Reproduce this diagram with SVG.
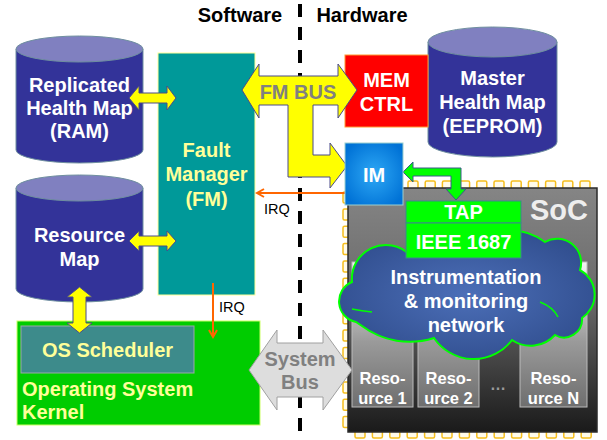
<svg xmlns="http://www.w3.org/2000/svg" width="607" height="440" viewBox="0 0 607 440">
<defs>
<style>
.t{font-family:"Liberation Sans",Arial,sans-serif;font-weight:bold;font-size:20px;text-anchor:middle}
.w{fill:#FFFFFF}
.py{fill:#FFFF99}
.g{fill:#808080}
.k{fill:#000000}
.irq{font-family:"Liberation Sans",Arial,sans-serif;font-size:14.5px;fill:#000000}
.cylb{fill:#333399;stroke:#6F8F9F;stroke-width:1}
.cylt{fill:#8080C0;stroke:#6F8F9F;stroke-width:1}
.ya{fill:#FFFF00;stroke:#4B4B8B;stroke-width:1}
.pin{fill:#FFFBEA;stroke:#F5BE1E;stroke-width:1.5}
.res{fill:url(#resg);stroke:#BBBBBB;stroke-width:1}
.or{stroke:#FF6600;stroke-width:2;fill:none}
</style>
<linearGradient id="socg" x1="0" y1="0" x2="0" y2="1">
<stop offset="0" stop-color="#858585"/>
<stop offset="0.45" stop-color="#6A6A6A"/>
<stop offset="1" stop-color="#1A1A1A"/>
</linearGradient>
<linearGradient id="resg" x1="0" y1="0" x2="0" y2="1">
<stop offset="0" stop-color="#F4F4F4"/>
<stop offset="0.55" stop-color="#9A9A9A"/>
<stop offset="1" stop-color="#6E6E6E"/>
</linearGradient>
<radialGradient id="imgr" cx="0.5" cy="0.5" r="0.6">
<stop offset="0" stop-color="#2EA8F5"/>
<stop offset="1" stop-color="#0072D6"/>
</radialGradient>
<radialGradient id="cloudg" cx="0.5" cy="0.5" r="0.6">
<stop offset="0" stop-color="#4C6FB8"/>
<stop offset="1" stop-color="#2F4C8C"/>
</radialGradient>
<marker id="oa" markerWidth="10" markerHeight="10" refX="8" refY="5" orient="auto" markerUnits="userSpaceOnUse">
<path d="M1,1 L8,5 L1,9" fill="none" stroke="#FF6600" stroke-width="2"/>
</marker>
</defs>

<rect width="607" height="440" fill="#FFFFFF"/>

<!-- divider -->
<line x1="300" y1="4" x2="300" y2="440" stroke="#000000" stroke-width="4" stroke-dasharray="13 10"/>
<text class="t k" x="240" y="22">Software</text>
<text class="t k" x="362" y="22">Hardware</text>

<!-- SoC -->
<g id="soc">
<g id="pins">
<rect class="pin" x="408" y="181" width="10" height="11" rx="1.5"/>
<rect class="pin" x="425.2" y="181" width="10" height="11" rx="1.5"/>
<rect class="pin" x="442.4" y="181" width="10" height="11" rx="1.5"/>
<rect class="pin" x="459.6" y="181" width="10" height="11" rx="1.5"/>
<rect class="pin" x="476.8" y="181" width="10" height="11" rx="1.5"/>
<rect class="pin" x="494" y="181" width="10" height="11" rx="1.5"/>
<rect class="pin" x="511.2" y="181" width="10" height="11" rx="1.5"/>
<rect class="pin" x="528.4" y="181" width="10" height="11" rx="1.5"/>
<rect class="pin" x="545.6" y="181" width="10" height="11" rx="1.5"/>
<rect class="pin" x="562.8" y="181" width="10" height="11" rx="1.5"/>
<rect class="pin" x="580" y="181" width="10" height="11" rx="1.5"/>
<rect class="pin" x="343" y="192" width="10" height="11" rx="1.5"/>
<rect class="pin" x="343" y="209" width="10" height="11" rx="1.5"/>
<rect class="pin" x="343" y="226.3" width="10" height="11" rx="1.5"/>
<rect class="pin" x="343" y="243.6" width="10" height="11" rx="1.5"/>
<rect class="pin" x="343" y="260.9" width="10" height="11" rx="1.5"/>
<rect class="pin" x="343" y="278.2" width="10" height="11" rx="1.5"/>
<rect class="pin" x="343" y="295.5" width="10" height="11" rx="1.5"/>
<rect class="pin" x="343" y="312.8" width="10" height="11" rx="1.5"/>
<rect class="pin" x="343" y="330.1" width="10" height="11" rx="1.5"/>
<rect class="pin" x="343" y="347.4" width="10" height="11" rx="1.5"/>
<rect class="pin" x="343" y="364.7" width="10" height="11" rx="1.5"/>
<rect class="pin" x="343" y="382" width="10" height="11" rx="1.5"/>
<rect class="pin" x="343" y="399.3" width="10" height="11" rx="1.5"/>
<rect class="pin" x="343" y="416.6" width="10" height="11" rx="1.5"/>
<rect class="pin" x="355" y="427" width="10" height="11" rx="1.5"/>
<rect class="pin" x="372.4" y="427" width="10" height="11" rx="1.5"/>
<rect class="pin" x="389.8" y="427" width="10" height="11" rx="1.5"/>
<rect class="pin" x="407.2" y="427" width="10" height="11" rx="1.5"/>
<rect class="pin" x="424.6" y="427" width="10" height="11" rx="1.5"/>
<rect class="pin" x="442" y="427" width="10" height="11" rx="1.5"/>
<rect class="pin" x="459.4" y="427" width="10" height="11" rx="1.5"/>
<rect class="pin" x="476.8" y="427" width="10" height="11" rx="1.5"/>
<rect class="pin" x="494.2" y="427" width="10" height="11" rx="1.5"/>
<rect class="pin" x="511.6" y="427" width="10" height="11" rx="1.5"/>
<rect class="pin" x="529" y="427" width="10" height="11" rx="1.5"/>
<rect class="pin" x="546.4" y="427" width="10" height="11" rx="1.5"/>
<rect class="pin" x="563.8" y="427" width="10" height="11" rx="1.5"/>
<rect class="pin" x="581.2" y="427" width="10" height="11" rx="1.5"/>
</g>
<rect x="348" y="188" width="249" height="244" fill="url(#socg)" stroke="#2A2A2A" stroke-width="1.5"/>
<text x="559" y="220" style="font-family:'Liberation Sans',Arial,sans-serif;font-weight:bold;font-size:29px;text-anchor:middle" fill="#EEEEEE">SoC</text>
</g>

<g id="resource1">
<rect class="res" x="352" y="262" width="61" height="145"/>
<text class="t w" x="382.5" y="384" style="font-size:16.5px">Reso-</text>
<text class="t w" x="382.5" y="404" style="font-size:16.5px">urce 1</text>
</g>
<g id="resource2">
<rect class="res" x="418" y="262" width="61" height="145"/>
<text class="t w" x="448.5" y="384" style="font-size:16.5px">Reso-</text>
<text class="t w" x="448.5" y="404" style="font-size:16.5px">urce 2</text>
</g>
<text class="t" x="498" y="390" fill="#9A9A9A" style="font-size:16px">…</text>
<g id="resourceN">
<rect class="res" x="520" y="262" width="67" height="145"/>
<text class="t w" x="553.5" y="384" style="font-size:16.5px">Reso-</text>
<text class="t w" x="553.5" y="404" style="font-size:16.5px">urce N</text>
</g>

<g id="network">
<path d="M356,322 A21,21 0 0 1 352,282 A34,34 0 0 1 410,255 A30,30 0 0 1 465,250 A60,60 0 0 1 545,242 A24,24 0 0 1 580,270 A28,28 0 0 1 582,318 A18,18 0 0 1 555,335 A33,33 0 0 1 512,340 A48,48 0 0 1 434,338 A80,80 0 0 1 362,326 Z" fill="url(#cloudg)" stroke="#00FF00" stroke-width="2"/>
<path d="M352,309 Q362,311 372,312" fill="none" stroke="#00FF00" stroke-width="1.5"/>
<path d="M540,302 Q553,307 558,317" fill="none" stroke="#00FF00" stroke-width="1.5"/>
<text class="t w" x="466" y="284">Instrumentation</text>
<text class="t w" x="466" y="308">&amp; monitoring</text>
<text class="t w" x="466" y="332">network</text>
</g>

<g id="tap">
<rect x="406" y="201" width="115" height="22" fill="#00FF00" stroke="#3A8A8A" stroke-width="1"/>
<text class="t w" x="463.5" y="219">TAP</text>
</g>
<g id="ieee1687">
<rect x="406" y="223" width="115" height="35" fill="#00FF00" stroke="#3A8A8A" stroke-width="1"/>
<text class="t w" x="463.5" y="249">IEEE 1687</text>
</g>

<!-- Cylinders -->
<g id="replicated-health-map">
<path class="cylb" d="M16,49 L16,150 A63.5,13 0 0 0 143,150 L143,49 Z"/>
<ellipse class="cylt" cx="79.5" cy="49" rx="63.5" ry="13"/>
<text class="t w" x="79.5" y="92">Replicated</text>
<text class="t w" x="79.5" y="115">Health Map</text>
<text class="t w" x="79.5" y="138">(RAM)</text>
</g>
<g id="resource-map">
<path class="cylb" d="M16,188 L16,289 A63.5,13 0 0 0 143,289 L143,188 Z"/>
<ellipse class="cylt" cx="79.5" cy="188" rx="63.5" ry="13"/>
<text class="t w" x="79.5" y="242">Resource</text>
<text class="t w" x="79.5" y="266">Map</text>
</g>
<g id="master-health-map">
<path class="cylb" d="M428,42 L428,142 A64.5,15 0 0 0 557,142 L557,42 Z"/>
<ellipse class="cylt" cx="492.5" cy="42" rx="64.5" ry="15"/>
<text class="t w" x="492.5" y="85">Master</text>
<text class="t w" x="492.5" y="109">Health Map</text>
<text class="t w" x="492.5" y="133">(EEPROM)</text>
</g>

<g id="fault-manager">
<rect x="158" y="53" width="97" height="242" fill="#009999" stroke="#FFFF99" stroke-width="1"/>
<text class="t py" x="206.5" y="157">Fault</text>
<text class="t py" x="206.5" y="181">Manager</text>
<text class="t py" x="206.5" y="206">(FM)</text>
</g>

<g id="os-kernel">
<rect x="17" y="321" width="243" height="104" fill="#00CC00" stroke="#CCFF66" stroke-width="1"/>
<text class="t py" x="22" y="396" style="text-anchor:start">Operating System</text>
<text class="t py" x="22" y="419" style="text-anchor:start">Kernel</text>
</g>
<g id="os-scheduler">
<rect x="21" y="326" width="173" height="47" fill="#3D8B8B" stroke="#9AA8A8" stroke-width="1"/>
<text class="t py" x="107.5" y="357">OS Scheduler</text>
</g>

<g id="mem-ctrl">
<rect x="345" y="55" width="83" height="72" fill="#FF0000" stroke="#FF9933" stroke-width="1"/>
<text class="t w" x="386.5" y="87">MEM</text>
<text class="t w" x="386.5" y="111">CTRL</text>
</g>

<g id="connectors">
<!-- IRQ lines -->
<line class="or" x1="346" y1="193" x2="257" y2="193" marker-end="url(#oa)"/>
<line class="or" x1="213" y1="283" x2="213" y2="337" marker-end="url(#oa)"/>
<!-- yellow double arrows -->
<polygon class="ya" points="129,98 139,86 139,93 167,93 167,86 176,98 167,110 167,103 139,103 139,110"/>
<polygon class="ya" points="129,241 139,231 139,236 167,236 167,231 176,241 167,251 167,246 139,246 139,251"/>
<polygon class="ya" points="79.5,287 92,297 86,297 86,323 92,323 79.5,333 67,323 73,323 73,297 67,297"/>
<!-- FM BUS -->
<polygon class="ya" points="242,90 259,64 259,76 338,76 338,64 357,90 338,118 338,105 313,105 313,155 330,155 330,143 347,166 330,188 330,177 288,177 288,105 259,105 259,118"/>
<!-- System Bus -->
<polygon points="249,370 277,330 277,343 323,343 323,330 352,370 323,410 323,397 277,397 277,410" fill="#DDDDDD" stroke="#A0A0A0" stroke-width="1"/>
<!-- IM to TAP -->
<polygon points="403,172 413,162 413,168 461,168 461,189 466,189 456,200 446,189 451,189 451,176 413,176 413,182" fill="#00FF00" stroke="#3A5A8A" stroke-width="1"/>
</g>
<text class="t g" x="298" y="99">FM BUS</text>
<text class="t g" x="300" y="366">System</text>
<text class="t g" x="300" y="389">Bus</text>
<text class="irq" x="264" y="214">IRQ</text>
<text class="irq" x="219" y="312">IRQ</text>

<g id="im">
<rect x="345" y="143" width="58" height="62" fill="url(#imgr)" stroke="#9CCFCF" stroke-width="1"/>
<text class="t w" x="374" y="182">IM</text>
</g>
</svg>
